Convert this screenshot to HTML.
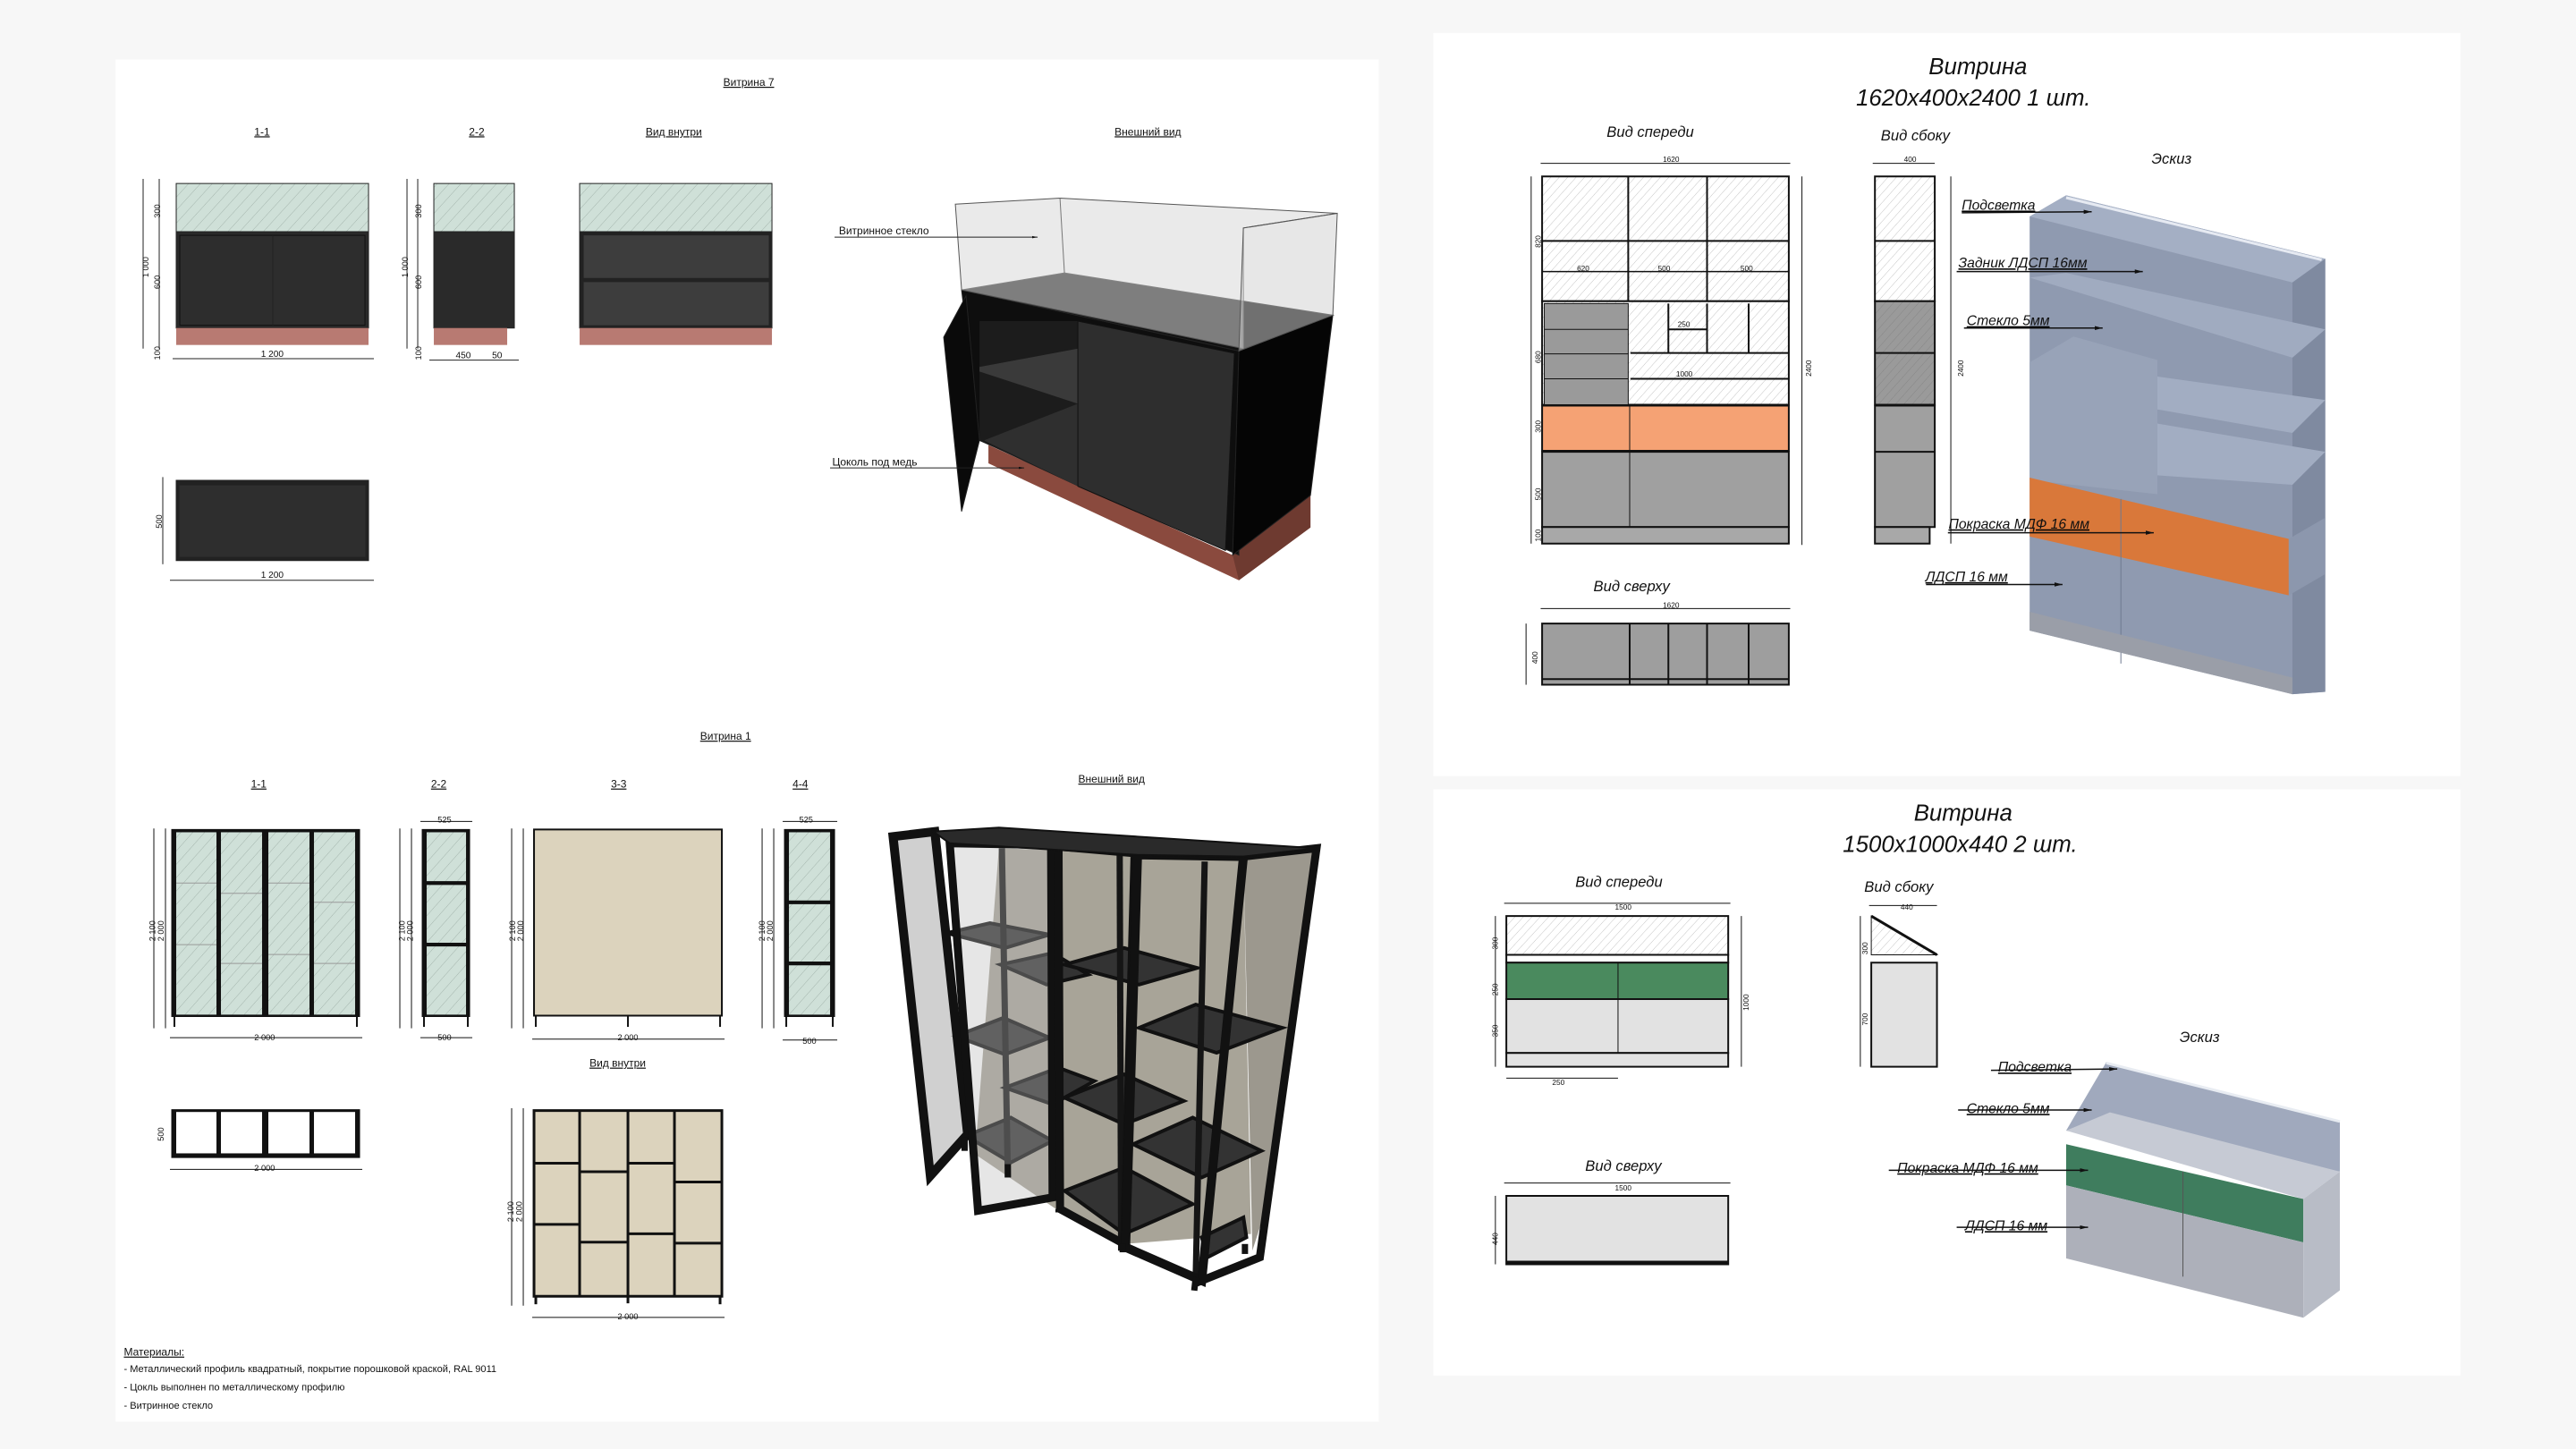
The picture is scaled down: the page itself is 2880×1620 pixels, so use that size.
<!DOCTYPE html>
<html><head><meta charset="utf-8">
<style>
html,body{margin:0;padding:0;background:#f7f7f7;}
svg{display:block;}
text{font-family:"Liberation Sans Narrow","Liberation Sans",sans-serif;fill:#111;}
.it{font-style:italic;}
.s *{vector-effect:non-scaling-stroke;}
</style></head>
<body>
<svg width="2880" height="1620" viewBox="0 0 1560 877.5" xmlns="http://www.w3.org/2000/svg">
<defs>
<pattern id="hg" width="12" height="12" patternUnits="userSpaceOnUse" patternTransform="rotate(25)">
<rect width="12" height="12" fill="#cfe0d8"/><line x1="0" y1="0" x2="0" y2="12" stroke="#7a8a82" stroke-width="0.6"/></pattern>
<pattern id="hw" width="10" height="10" patternUnits="userSpaceOnUse" patternTransform="rotate(30)">
<rect width="10" height="10" fill="#fff"/><line x1="0" y1="0" x2="0" y2="10" stroke="#999" stroke-width="0.8"/></pattern>
<pattern id="hgr" width="10" height="10" patternUnits="userSpaceOnUse" patternTransform="rotate(30)">
<rect width="10" height="10" fill="#9a9a9a"/><line x1="0" y1="0" x2="0" y2="10" stroke="#777" stroke-width="0.8"/></pattern>
<marker id="ar" markerWidth="6" markerHeight="6" refX="5" refY="3" orient="auto"><path d="M0,1 L5,3 L0,5z" fill="#111"/></marker>
</defs>
<rect width="1560" height="877.5" fill="#f7f7f7"/>
<rect x="70" y="36" width="765" height="825" fill="#fff"/>
<rect x="868" y="20" width="622" height="450" fill="#fff"/>
<rect x="868" y="478" width="622" height="355" fill="#fff"/>

<g class="s" transform="scale(0.5417,0.2778)" stroke="#222" stroke-width="1">
 <rect x="197" y="400" width="215" height="105" fill="url(#hg)"/>
 <rect x="197" y="505" width="215" height="210" fill="#2a2a2a"/>
 <rect x="201" y="513" width="207" height="196" fill="#2d2d2d" stroke="#111"/>
 <line x1="305" y1="513" x2="305" y2="709"/>
 <rect x="197" y="715" width="215" height="37" fill="#b87a72" stroke="none"/>
 <line x1="178" y1="390" x2="178" y2="760"/><line x1="160" y1="390" x2="160" y2="760"/>
 <line x1="193" y1="782" x2="418" y2="782"/>
 <rect x="485" y="400" width="90" height="105" fill="url(#hg)"/>
 <rect x="485" y="505" width="90" height="210" fill="#2a2a2a"/>
 <rect x="485" y="715" width="82" height="37" fill="#b87a72" stroke="none"/>
 <line x1="467" y1="390" x2="467" y2="760"/><line x1="455" y1="390" x2="455" y2="760"/>
 <line x1="480" y1="785" x2="580" y2="785"/>
 <rect x="648" y="400" width="215" height="105" fill="url(#hg)"/>
 <rect x="648" y="505" width="215" height="210" fill="#222"/>
 <rect x="652" y="512" width="208" height="95" fill="#3d3d3d"/>
 <rect x="652" y="614" width="208" height="96" fill="#3d3d3d"/>
 <rect x="648" y="715" width="215" height="37" fill="#b87a72" stroke="none"/>
 <rect x="197" y="1047" width="215" height="175" fill="#222"/>
 <rect x="200" y="1057" width="209" height="158" fill="#2e2e2e"/>
 <line x1="182" y1="1040" x2="182" y2="1230"/>
 <line x1="190" y1="1265" x2="418" y2="1265"/>
 <polygon points="1105,970 1378,1210 1465,1080 1465,1150 1385,1265 1105,1010" fill="#8a4a3e" stroke="none"/>
 <polygon points="1378,1210 1465,1080 1465,1150 1385,1265" fill="#6e3a30" stroke="none"/>
 <polygon points="1075,632 1385,765 1385,1210 1095,960" fill="#0e0e0e"/>
 <polygon points="1095,700 1205,700 1205,1060 1095,960" fill="#1c1c1c" stroke="none"/>
 <polygon points="1095,800 1205,760 1205,880 1095,810" fill="#3a3a3a" stroke="none"/>
 <polygon points="1100,960 1205,880 1205,1060" fill="#2f2f2f" stroke="none"/>
 <polygon points="1205,700 1380,770 1370,1200 1205,1060" fill="#2e2e2e" stroke="#111"/>
 <polygon points="1385,765 1490,687 1465,1080 1378,1210" fill="#050505"/>
 <polygon points="1075,632 1190,595 1490,687 1385,765" fill="#111"/>
 <polygon points="1080,645 1055,735 1075,1115 1095,960" fill="#0a0a0a"/>
 <polygon points="1068,445 1185,432 1495,465 1390,497 1390,760 1075,632" fill="#d9d9d9" fill-opacity="0.55" stroke="#555"/>
 <polygon points="1390,497 1495,465 1490,687 1385,765" fill="#cfcfcf" fill-opacity="0.5" stroke="#555"/>
 <line x1="1185" y1="432" x2="1190" y2="595" stroke="#777"/>
 <line x1="933" y1="517" x2="1160" y2="517" marker-end="url(#ar)"/>
 <line x1="928" y1="1020" x2="1145" y2="1020" marker-end="url(#ar)"/>
</g>
<g font-size="6.5">
<text x="438" y="52" text-decoration="underline">Витрина 7</text>
<text x="154" y="82" text-decoration="underline">1-1</text>
<text x="284" y="82" text-decoration="underline">2-2</text>
<text x="391" y="82" text-decoration="underline">Вид внутри</text>
<text x="675" y="82" text-decoration="underline">Внешний вид</text>
<text x="508" y="142">Витринное стекло</text>
<text x="504" y="282">Цоколь под медь</text>
<text x="158" y="216" font-size="5.5">1 200</text>
<text x="158" y="350" font-size="5.5">1 200</text>
<text x="276" y="217" font-size="5.5">450</text><text x="298" y="217" font-size="5.5">50</text>
<g font-size="5"><text transform="translate(90,168) rotate(-90)">1 000</text><text transform="translate(97,132) rotate(-90)">300</text><text transform="translate(97,175) rotate(-90)">600</text><text transform="translate(97,218) rotate(-90)">100</text>
<text transform="translate(247,168) rotate(-90)">1 000</text><text transform="translate(255,132) rotate(-90)">300</text><text transform="translate(255,175) rotate(-90)">600</text><text transform="translate(255,218) rotate(-90)">100</text>
<text transform="translate(98,320) rotate(-90)">500</text></g>
</g>

<g class="s" transform="translate(0,433.4) scale(0.5417,0.2847)" stroke="#111" stroke-width="1">
 <rect x="192" y="242" width="210" height="398" fill="#111"/>
 <rect x="197" y="248" width="45" height="388" fill="url(#hg)" stroke="none"/>
 <rect x="247" y="248" width="46" height="388" fill="url(#hg)" stroke="none"/>
 <rect x="300" y="248" width="46" height="388" fill="url(#hg)" stroke="none"/>
 <rect x="351" y="248" width="46" height="388" fill="url(#hg)" stroke="none"/>
 <line x1="197" y1="356" x2="242" y2="356" stroke="#999"/><line x1="197" y1="487" x2="242" y2="487" stroke="#999"/>
 <line x1="247" y1="378" x2="293" y2="378" stroke="#999"/><line x1="247" y1="527" x2="293" y2="527" stroke="#999"/>
 <line x1="300" y1="356" x2="346" y2="356" stroke="#999"/><line x1="300" y1="508" x2="346" y2="508" stroke="#999"/>
 <line x1="351" y1="397" x2="397" y2="397" stroke="#999"/><line x1="351" y1="527" x2="397" y2="527" stroke="#999"/>
 <line x1="195" y1="640" x2="195" y2="662" stroke-width="2"/><line x1="399" y1="640" x2="399" y2="662" stroke-width="2"/>
 <line x1="172" y1="240" x2="172" y2="665"/><line x1="185" y1="240" x2="185" y2="665"/>
 <line x1="190" y1="685" x2="405" y2="685"/>
 <rect x="472" y="242" width="53" height="398" fill="#111"/>
 <rect x="477" y="248" width="44" height="388" fill="url(#hg)" stroke="none"/>
 <rect x="477" y="353" width="44" height="6" fill="#111"/><rect x="477" y="484" width="44" height="6" fill="#111"/>
 <line x1="474" y1="640" x2="474" y2="662" stroke-width="2"/><line x1="523" y1="640" x2="523" y2="662" stroke-width="2"/>
 <line x1="447" y1="240" x2="447" y2="665"/><line x1="460" y1="240" x2="460" y2="665"/>
 <line x1="470" y1="225" x2="528" y2="225"/><line x1="470" y1="685" x2="528" y2="685"/>
 <rect x="597" y="242" width="210" height="396" fill="#dcd3bd" stroke="#111" stroke-width="2"/>
 <line x1="599" y1="638" x2="599" y2="662" stroke-width="2"/><line x1="702" y1="638" x2="702" y2="662" stroke-width="2"/><line x1="805" y1="638" x2="805" y2="662" stroke-width="2"/>
 <line x1="572" y1="240" x2="572" y2="665"/><line x1="585" y1="240" x2="585" y2="665"/>
 <line x1="595" y1="688" x2="810" y2="688"/>
 <rect x="877" y="242" width="56" height="398" fill="#111"/>
 <rect x="882" y="248" width="46" height="388" fill="url(#hg)" stroke="none"/>
 <rect x="882" y="394" width="46" height="6" fill="#111"/><rect x="882" y="524" width="46" height="6" fill="#111"/>
 <line x1="879" y1="640" x2="879" y2="662" stroke-width="2"/><line x1="931" y1="640" x2="931" y2="662" stroke-width="2"/>
 <line x1="852" y1="240" x2="852" y2="665"/><line x1="865" y1="240" x2="865" y2="665"/>
 <line x1="875" y1="225" x2="936" y2="225"/><line x1="875" y1="690" x2="936" y2="690"/>
 <rect x="192" y="838" width="210" height="102" fill="#111"/>
 <rect x="197" y="843" width="45" height="88" fill="#fff" stroke="none"/>
 <rect x="247" y="843" width="46" height="88" fill="#fff" stroke="none"/>
 <rect x="300" y="843" width="46" height="88" fill="#fff" stroke="none"/>
 <rect x="351" y="843" width="46" height="88" fill="#fff" stroke="none"/>
 <line x1="190" y1="965" x2="405" y2="965"/>
 <rect x="597" y="840" width="210" height="395" fill="#dcd3bd" stroke="#111" stroke-width="3"/>
 <g stroke-width="3">
 <line x1="648" y1="840" x2="648" y2="1235"/><line x1="702" y1="840" x2="702" y2="1250"/><line x1="754" y1="840" x2="754" y2="1235"/>
 <line x1="597" y1="952" x2="648" y2="952"/><line x1="597" y1="1082" x2="648" y2="1082"/>
 <line x1="648" y1="970" x2="702" y2="970"/><line x1="648" y1="1120" x2="702" y2="1120"/>
 <line x1="702" y1="952" x2="754" y2="952"/><line x1="702" y1="1102" x2="754" y2="1102"/>
 <line x1="754" y1="992" x2="807" y2="992"/><line x1="754" y1="1122" x2="807" y2="1122"/>
 <line x1="599" y1="1235" x2="599" y2="1252"/><line x1="805" y1="1235" x2="805" y2="1252"/></g>
 <line x1="572" y1="835" x2="572" y2="1255"/><line x1="585" y1="835" x2="585" y2="1255"/>
 <line x1="595" y1="1280" x2="810" y2="1280"/>
</g>
<g font-size="6.5">
<text x="424" y="448" text-decoration="underline">Витрина 1</text>
<text x="152" y="477" text-decoration="underline">1-1</text>
<text x="261" y="477" text-decoration="underline">2-2</text>
<text x="370" y="477" text-decoration="underline">3-3</text>
<text x="480" y="477" text-decoration="underline">4-4</text>
<text x="653" y="474" text-decoration="underline">Внешний вид</text>
<text x="357" y="646" text-decoration="underline">Вид внутри</text>
<g font-size="5"><text x="154" y="630">2 000</text><text x="265" y="498">525</text><text x="265" y="630">500</text><text x="374" y="630">2 000</text><text x="484" y="498">525</text><text x="486" y="632">500</text><text x="154" y="709">2 000</text><text x="374" y="799">2 000</text>
<text transform="translate(94,570) rotate(-90)">2 100</text><text transform="translate(99,570) rotate(-90)">2 000</text><text transform="translate(99,691) rotate(-90)">500</text>
<text transform="translate(245,570) rotate(-90)">2 100</text><text transform="translate(250,570) rotate(-90)">2 000</text>
<text transform="translate(312,570) rotate(-90)">2 100</text><text transform="translate(317,570) rotate(-90)">2 000</text>
<text transform="translate(463,570) rotate(-90)">2 100</text><text transform="translate(468,570) rotate(-90)">2 000</text>
<text transform="translate(311,740) rotate(-90)">2 100</text><text transform="translate(316,740) rotate(-90)">2 000</text></g>
<text x="75" y="821" text-decoration="underline">Материалы:</text>
<text x="75" y="831" font-size="6">- Металлический профиль квадратный, покрытие порошковой краской, RAL 9011</text>
<text x="75" y="842" font-size="6">- Цокль выполнен по металлическому профилю</text>
<text x="75" y="853" font-size="6">- Витринное стекло</text>
</g>

<g class="s" transform="translate(536.3,487.5) scale(0.1806,0.2014)" stroke="#111" stroke-width="2">
 <polygon points="380,130 1200,155 1225,1290 800,1320 580,1220 300,1050" fill="#a8a498" stroke="none"/>
 <polygon points="1200,155 1445,130 1280,1200 1230,1340" fill="#9c988e" stroke="none"/>
 <g fill="#333" stroke="#111" stroke-width="4">
 <polygon points="205,385 350,355 550,390 400,430"/>
 <polygon points="385,480 560,445 680,510 540,540"/>
 <polygon points="600,480 800,430 1045,490 850,540"/>
 <polygon points="235,695 395,640 550,700 400,750"/>
 <polygon points="850,670 1040,600 1330,670 1110,745"/>
 <polygon points="400,850 580,790 700,830 560,900"/>
 <polygon points="600,880 800,810 1000,890 800,960"/>
 <polygon points="830,1020 1030,940 1260,1040 1060,1120"/>
 <polygon points="270,995 420,940 560,1010 420,1075"/>
 <polygon points="600,1160 800,1090 1030,1200 800,1290"/>
 <polygon points="1060,1300 1200,1240 1210,1300 1080,1360"/>
 </g>
 <g fill="none" stroke="#151515" stroke-width="7">
 <line x1="390" y1="130" x2="410" y2="1120"/>
 <line x1="785" y1="150" x2="790" y2="1340"/>
 <line x1="1070" y1="170" x2="1040" y2="1420"/>
 </g>
 <polygon points="25,95 165,80 275,990 150,1115" fill="#c4c4c4" fill-opacity="0.8" stroke="#111" stroke-width="10"/>
 <polygon points="215,115 555,120 560,1180 310,1220" fill="#b8b8b8" fill-opacity="0.35" stroke="#111" stroke-width="9"/>
 <polygon points="580,125 835,145 800,1320 585,1215" fill="none" stroke="#111" stroke-width="9"/>
 <polygon points="845,150 1200,155 1060,1430 805,1330" fill="none" stroke="#111" stroke-width="10"/>
 <polygon points="1200,155 1445,130 1255,1360 1060,1430" fill="none" stroke="#111" stroke-width="9"/>
 <polygon points="160,80 380,68 1445,130 1200,155 845,150 215,115" fill="#2a2a2a"/>
 <g stroke-width="7"><line x1="580" y1="1215" x2="580" y2="1225"/><line x1="795" y1="1320" x2="795" y2="1345"/><line x1="1040" y1="1420" x2="1035" y2="1460"/><line x1="1205" y1="1320" x2="1205" y2="1350"/><line x1="410" y1="1080" x2="410" y2="1120"/><line x1="265" y1="1000" x2="265" y2="1040"/></g>
</g>

<g class="s" transform="translate(866.7,0) scale(0.442,0.285)" stroke="#111" stroke-width="1">
 <rect x="152" y="375" width="338" height="265" fill="url(#hw)" stroke-width="2"/>
 <line x1="152" y1="512" x2="490" y2="512" stroke-width="2"/>
 <line x1="152" y1="577" x2="490" y2="577" stroke-width="1.5"/>
 <line x1="270" y1="375" x2="270" y2="640" stroke-width="2"/><line x1="378" y1="375" x2="378" y2="640" stroke-width="2"/>
 <rect x="152" y="640" width="338" height="220" fill="url(#hw)" stroke-width="2"/>
 <rect x="155" y="645" width="115" height="215" fill="#9a9a9a"/>
 <line x1="155" y1="700" x2="270" y2="700"/><line x1="155" y1="752" x2="270" y2="752"/><line x1="155" y1="805" x2="270" y2="805"/>
 <line x1="273" y1="750" x2="490" y2="750" stroke-width="2"/><line x1="273" y1="805" x2="490" y2="805" stroke-width="2"/>
 <line x1="325" y1="645" x2="325" y2="750" stroke-width="2"/><line x1="378" y1="645" x2="378" y2="750" stroke-width="2"/><line x1="435" y1="645" x2="435" y2="750" stroke-width="2"/>
 <line x1="325" y1="700" x2="378" y2="700" stroke-width="2"/>
 <rect x="152" y="862" width="338" height="96" fill="#f5a274" stroke-width="2"/>
 <line x1="272" y1="862" x2="272" y2="958"/>
 <rect x="152" y="960" width="338" height="160" fill="#a0a0a0" stroke-width="2"/>
 <line x1="272" y1="960" x2="272" y2="1120"/>
 <rect x="152" y="1120" width="338" height="35" fill="#a8a8a8" stroke-width="2"/>
 <line x1="137" y1="375" x2="137" y2="1155"/><line x1="508" y1="375" x2="508" y2="1158"/>
 <line x1="150" y1="347" x2="492" y2="347"/>
 <rect x="608" y="375" width="82" height="265" fill="url(#hw)" stroke-width="2"/>
 <line x1="608" y1="512" x2="690" y2="512" stroke-width="2"/>
 <rect x="608" y="640" width="82" height="220" fill="url(#hgr)" stroke-width="2"/>
 <line x1="608" y1="750" x2="690" y2="750" stroke-width="2"/>
 <rect x="608" y="862" width="82" height="258" fill="#a0a0a0" stroke-width="2"/>
 <line x1="608" y1="960" x2="690" y2="960" stroke-width="2"/>
 <rect x="608" y="1120" width="75" height="35" fill="#a8a8a8" stroke-width="2"/>
 <line x1="712" y1="375" x2="712" y2="1155"/><line x1="605" y1="347" x2="690" y2="347"/>
 <rect x="152" y="1325" width="338" height="130" fill="#9e9e9e" stroke-width="2"/>
 <line x1="272" y1="1325" x2="272" y2="1455" stroke-width="2"/><line x1="325" y1="1325" x2="325" y2="1455" stroke-width="2"/><line x1="378" y1="1325" x2="378" y2="1455" stroke-width="2"/><line x1="435" y1="1325" x2="435" y2="1455" stroke-width="2"/>
 <line x1="152" y1="1443" x2="490" y2="1443" stroke-width="2"/>
 <line x1="150" y1="1293" x2="492" y2="1293"/><line x1="130" y1="1325" x2="130" y2="1455"/>
 <polygon points="820,460 870,415 1225,550 1225,1470 1180,1475 820,1340" fill="#8f9ab0" stroke="none"/>
 <polygon points="1180,560 1225,550 1225,1470 1180,1475" fill="#7f8aa0" stroke="none"/>
 <polygon points="820,460 870,415 1225,550 1180,600" fill="#a4afc4" stroke="none"/>
 <line x1="870" y1="420" x2="1220" y2="552" stroke="#e6eaf2" stroke-width="3"/>
 <polygon points="820,590 870,580 1225,700 1180,760" fill="#a0abc0" stroke="none"/>
 <polygon points="820,770 880,715 995,765 995,1050 820,1020" fill="#98a3b8" stroke="none"/>
 <polygon points="995,800 1225,850 1180,920 995,870" fill="#a2adc2" stroke="none"/>
 <polygon points="995,900 1225,960 1180,1030 995,1010" fill="#a2adc2" stroke="none"/>
 <polygon points="820,1015 1175,1145 1175,1265 820,1140" fill="#d9783a" stroke="none"/>
 <polygon points="1175,1145 1225,1100 1225,1220 1175,1265" fill="#8c97ad" stroke="none"/>
 <line x1="945" y1="1060" x2="945" y2="1410" stroke="#6f7a90"/>
 <polygon points="820,1300 1180,1440 1180,1475 820,1340" fill="#9a9ea8" stroke="none"/>
 <g stroke-width="1.5">
 <line x1="727" y1="452" x2="905" y2="450" marker-end="url(#ar)"/>
 <line x1="720" y1="577" x2="975" y2="577" marker-end="url(#ar)"/>
 <line x1="730" y1="697" x2="920" y2="697" marker-end="url(#ar)"/>
 <line x1="708" y1="1132" x2="990" y2="1132" marker-end="url(#ar)"/>
 <line x1="678" y1="1242" x2="865" y2="1242" marker-end="url(#ar)"/></g>
</g>
<g class="it">
<text x="1168" y="45" font-size="14">Витрина</text>
<text x="1124" y="64" font-size="14">1620x400x2400 1 шт.</text>
<text x="973" y="83" font-size="9">Вид спереди</text>
<text x="1139" y="85" font-size="9">Вид сбоку</text>
<text x="1303" y="99" font-size="9">Эскиз</text>
<text x="965" y="358" font-size="9">Вид сверху</text>
<g font-size="8.5" text-decoration="underline">
<text x="1188" y="127">Подсветка</text>
<text x="1186" y="162">Задник ЛДСП 16мм</text>
<text x="1191" y="197">Стекло 5мм</text>
<text x="1180" y="320">Покраска МДФ 16 мм</text>
<text x="1166" y="352">ЛДСП 16 мм</text></g>
</g>
<g font-size="4.5"><text x="1007" y="98">1620</text><text x="1153" y="98">400</text><text x="1007" y="368">1620</text>
<text x="955" y="164">620</text><text x="1004" y="164">500</text><text x="1054" y="164">500</text><text x="1015" y="228">1000</text><text x="1016" y="198">250</text>
<text transform="translate(933,150) rotate(-90)">820</text><text transform="translate(933,220) rotate(-90)">680</text><text transform="translate(933,262) rotate(-90)">300</text><text transform="translate(933,303) rotate(-90)">500</text><text transform="translate(933,328) rotate(-90)">100</text>
<text transform="translate(1097,228) rotate(-90)">2400</text><text transform="translate(1189,228) rotate(-90)">2400</text><text transform="translate(931,402) rotate(-90)">400</text></g>

<g class="s" transform="translate(866.7,444.2) scale(0.442,0.2764)" stroke="#111" stroke-width="1">
 <rect x="103" y="400" width="304" height="85" fill="url(#hw)" stroke-width="2"/>
 <rect x="103" y="485" width="304" height="17" fill="#fff" stroke-width="2"/>
 <rect x="103" y="502" width="304" height="80" fill="#4a8a5e" stroke-width="2"/>
 <line x1="256" y1="502" x2="256" y2="582"/>
 <rect x="103" y="582" width="304" height="118" fill="#e2e2e2" stroke-width="2"/>
 <line x1="256" y1="582" x2="256" y2="730"/>
 <rect x="103" y="700" width="304" height="30" fill="#e2e2e2" stroke-width="2"/>
 <line x1="88" y1="400" x2="88" y2="730"/><line x1="425" y1="400" x2="425" y2="730"/>
 <line x1="100" y1="372" x2="410" y2="372"/><line x1="103" y1="755" x2="256" y2="755"/>
 <polygon points="603,400 693,485 603,485" fill="url(#hw)"/>
 <line x1="603" y1="400" x2="693" y2="485" stroke-width="3"/>
 <rect x="603" y="502" width="90" height="228" fill="#e2e2e2" stroke-width="2"/>
 <line x1="600" y1="377" x2="693" y2="377"/><line x1="588" y1="400" x2="588" y2="730"/>
 <rect x="103" y="1013" width="304" height="150" fill="#e2e2e2" stroke-width="2"/>
 <line x1="103" y1="1158" x2="407" y2="1158" stroke-width="3"/>
 <line x1="100" y1="985" x2="410" y2="985"/><line x1="88" y1="1013" x2="88" y2="1163"/>
 <polygon points="925,720 1245,848 1245,960 870,870" fill="#a0a9bd" stroke="none"/>
 <line x1="925" y1="722" x2="1245" y2="850" stroke="#e8ecf2" stroke-width="3"/>
 <polygon points="870,870 930,830 1245,960 1195,1020" fill="#c6cad4" stroke="none"/>
 <polygon points="870,900 1195,1020 1195,1115 870,990" fill="#3f7d5e" stroke="none"/>
 <polygon points="870,990 1195,1115 1195,1280 870,1150" fill="#adb0ba" stroke="none"/>
 <polygon points="1195,1020 1245,960 1245,1220 1195,1280" fill="#b8bcc6" stroke="none"/>
 <line x1="1030" y1="960" x2="1030" y2="1190" stroke="#555"/>
 <g stroke-width="1.5">
 <line x1="767" y1="738" x2="940" y2="735" marker-end="url(#ar)"/>
 <line x1="722" y1="825" x2="905" y2="825" marker-end="url(#ar)"/>
 <line x1="627" y1="957" x2="900" y2="957" marker-end="url(#ar)"/>
 <line x1="720" y1="1082" x2="900" y2="1082" marker-end="url(#ar)"/></g>
</g>
<g class="it">
<text x="1159" y="497" font-size="14">Витрина</text>
<text x="1116" y="516" font-size="14">1500x1000x440 2 шт.</text>
<text x="954" y="537" font-size="9">Вид спереди</text>
<text x="1129" y="540" font-size="9">Вид сбоку</text>
<text x="1320" y="631" font-size="9">Эскиз</text>
<text x="960" y="709" font-size="9">Вид сверху</text>
<g font-size="8.5" text-decoration="underline">
<text x="1210" y="649">Подсветка</text>
<text x="1191" y="674">Стекло 5мм</text>
<text x="1149" y="710">Покраска МДФ 16 мм</text>
<text x="1190" y="745">ЛДСП 16 мм</text></g>
</g>
<g font-size="4.5"><text x="978" y="551">1500</text><text x="1151" y="551">440</text><text x="940" y="657">250</text><text x="978" y="721">1500</text>
<text transform="translate(907,575) rotate(-90)">300</text><text transform="translate(907,603) rotate(-90)">250</text><text transform="translate(907,628) rotate(-90)">350</text><text transform="translate(1059,612) rotate(-90)">1000</text>
<text transform="translate(1131,578) rotate(-90)">300</text><text transform="translate(1131,621) rotate(-90)">700</text><text transform="translate(907,754) rotate(-90)">440</text></g>
</svg>
</body></html>
